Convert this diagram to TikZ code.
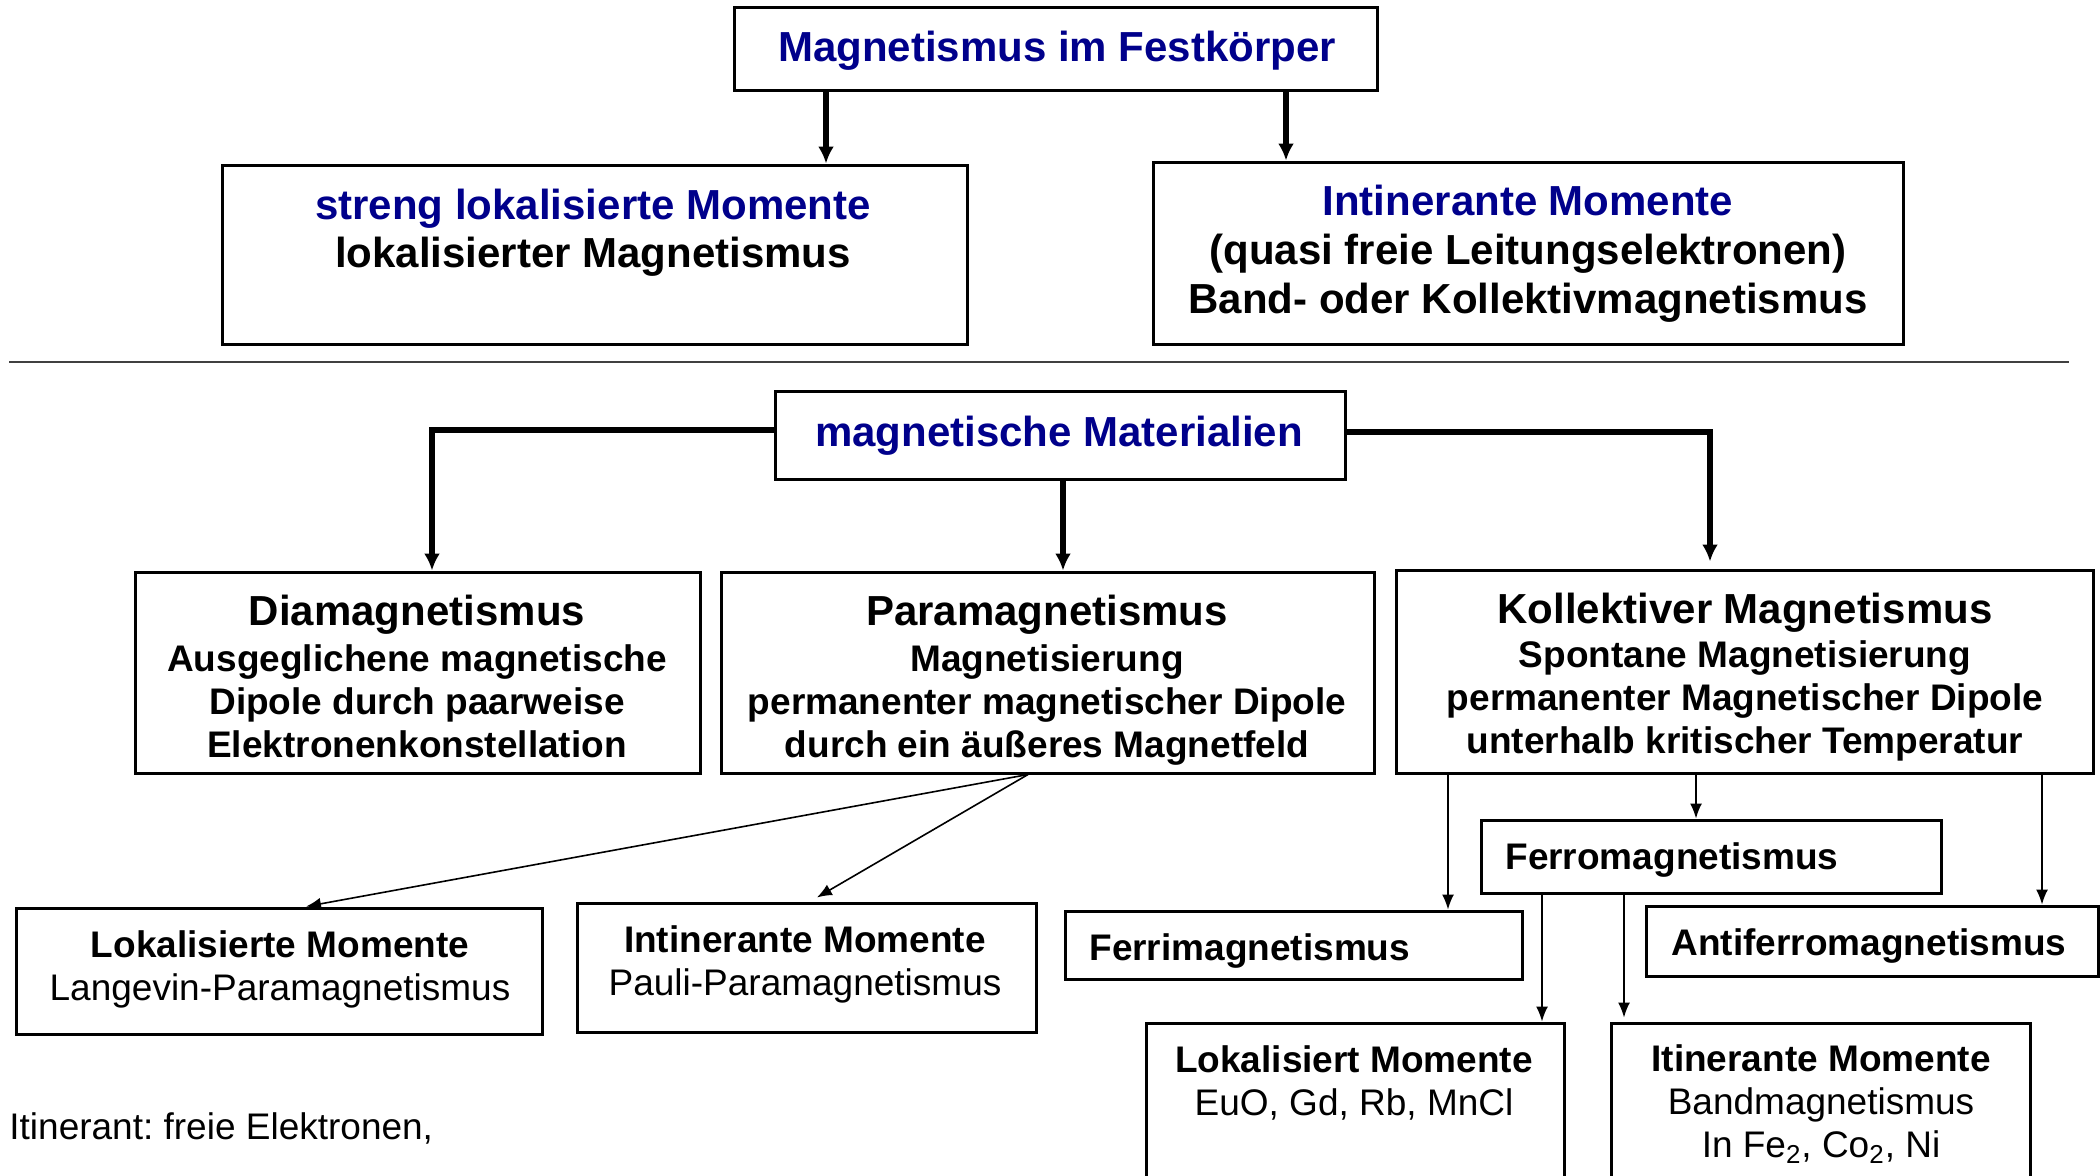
\documentclass[tikz,border=0pt]{standalone}
\usepackage{fontspec}
\setmainfont{Liberation Sans}
\usetikzlibrary{arrows.meta,fit}
\definecolor{navy}{RGB}{0,0,139}
\frenchspacing
\begin{document}
\begin{tikzpicture}[x=0.5pt,y=-0.5pt,
  box/.style={draw, line width=1.5pt, inner sep=0pt, rectangle},
  tharrow/.style={line width=2.7pt, -{Latex[length=8.5pt,width=8pt]}},
  tnarrow/.style={line width=0.8pt, -{Latex[length=7.5pt,width=6pt]}},
  bigtxt/.style={font=\fontsize{21}{24.5}\selectfont\bfseries, align=center, inner sep=0pt},
  medtxt/.style={font=\fontsize{18.5}{21.5}\selectfont\bfseries, align=center, inner sep=0pt},
  regtxt/.style={font=\fontsize{18.5}{21.5}\selectfont, align=center, inner sep=0pt}]
\useasboundingbox (0,0) rectangle (2100,1175);
\clip (0,0) rectangle (2100,1175);

% boxes
\node[box, fit={(734,7) (1377,90)}] (A) {};
\node[box, fit={(222,165) (967,344)}] (B) {};
\node[box, fit={(1153,162) (1903,344)}] (C) {};
\node[box, fit={(775,391) (1345,479)}] (D) {};
\node[box, fit={(135,572) (700,773)}] (E) {};
\node[box, fit={(721,572) (1374,773)}] (F) {};
\node[box, fit={(1396,570) (2093,773)}] (G) {};
\node[box, fit={(16,908) (542,1034)}] (H) {};
\node[box, fit={(577,903) (1036,1032)}] (I) {};
\node[box, fit={(1481,820) (1941,893)}] (J) {};
\node[box, fit={(1065,911) (1522,979)}] (K) {};
\node[box, fit={(1646,906) (2098,976)}] (L) {};
\node[box, fit={(1146,1023) (1564,1195)}] (M) {};
\node[box, fit={(1611,1023) (2030,1195)}] (N) {};

% separator
\draw[line width=1.3pt, black!75] (9,362) -- (2069,362);

% texts
\node[bigtxt, text=navy] (tA) at (1057,51) {Magnetismus im Festkörper};
\node[bigtxt, font=\fontsize{21}{24}\selectfont\bfseries] (tB) at (593,233)
  {\textcolor{navy}{streng lokalisierte Momente}\\lokalisierter Magnetismus};
\node[bigtxt, font=\fontsize{21}{24.5}\selectfont\bfseries] (tC) at (1528,254)
  {\textcolor{navy}{Intinerante Momente}\\(quasi freie Leitungselektronen)\\Band- oder Kollektivmagnetismus};
\node[bigtxt, text=navy] (tD) at (1059,436) {magnetische Materialien};
\node[medtxt] (tE) at (417,676)
  {{\fontsize{21}{24.5}\selectfont Diamagnetismus}\\[1.5pt]Ausgeglichene magnetische\\Dipole durch paarweise\\Elektronenkonstellation};
\node[medtxt] (tF) at (1047,680)
  {{\fontsize{21}{24.5}\selectfont Paramagnetismus}\\[1.5pt]Magnetisierung\\permanenter magnetischer Dipole\\durch ein äußeres Magnetfeld};
\node[medtxt] (tG) at (1745,677)
  {{\fontsize{21}{24.5}\selectfont Kollektiver Magnetismus}\\[0.5pt]Spontane Magnetisierung\\permanenter Magnetischer Dipole\\unterhalb kritischer Temperatur};
\node[regtxt] (tH) at (280,969) {\textbf{Lokalisierte Momente}\\Langevin-Paramagnetismus};
\node[regtxt] (tI) at (805,964) {\textbf{Intinerante Momente}\\Pauli-Paramagnetismus};
\node[medtxt, anchor=west] (tJ) at (1505,860) {Ferromagnetismus};
\node[medtxt, anchor=west] (tK) at (1089,951) {Ferrimagnetismus};
\node[medtxt] (tL) at (1869,946) {Antiferromagnetismus};
\node[regtxt] (tM) at (1354,1083) {\textbf{Lokalisiert Momente}\\EuO, Gd, Rb, MnCl};
\node[regtxt] (tN) at (1821,1104) {\textbf{Itinerante Momente}\\Bandmagnetismus\\In Fe\textsubscript{2}, Co\textsubscript{2}, Ni};
\node[regtxt, anchor=west] (tfoot) at (9,1128) {Itinerant: freie Elektronen,};

% connector positions
\coordinate (xa1) at (826,0);
\coordinate (xa2) at (1286,0);
\coordinate (xd1) at (432,0);
\coordinate (xd2) at (1063,0);
\coordinate (xd3) at (1710,0);
\coordinate (ydl) at (0,430);
\coordinate (ydr) at (0,432);
\coordinate (xf) at (1028,0);
\coordinate (xh) at (306,0);
\coordinate (xi) at (810,0);
\coordinate (xk) at (1448,0);
\coordinate (xj) at (1696,0);
\coordinate (xl) at (2042,0);
\coordinate (xm) at (1542,0);
\coordinate (xn) at (1624,0);

% thick connectors
\draw[tharrow] (A.south -| xa1) -- (B.north -| xa1);
\draw[tharrow] (A.south -| xa2) -- (C.north -| xa2);
\draw[tharrow] (D.west |- ydl) -| (E.north -| xd1);
\draw[tharrow] (D.south -| xd2) -- (F.north -| xd2);
\draw[tharrow, shorten >=3.5pt] (D.east |- ydr) -| (G.north -| xd3);

% thin connectors
\draw[tnarrow] (F.south -| xf) -- (H.north -| xh);
\draw[tnarrow, shorten >=4pt] (F.south -| xf) -- (I.north -| xi);
\draw[tnarrow] (G.south -| xk) -- (K.north -| xk);
\draw[tnarrow] (G.south -| xj) -- (J.north -| xj);
\draw[tnarrow] (G.south -| xl) -- (L.north -| xl);
\draw[tnarrow] (J.south -| xm) -- (M.north -| xm);
\draw[tnarrow, shorten >=2pt] (J.south -| xn) -- (N.north -| xn);
\end{tikzpicture}
\end{document}
